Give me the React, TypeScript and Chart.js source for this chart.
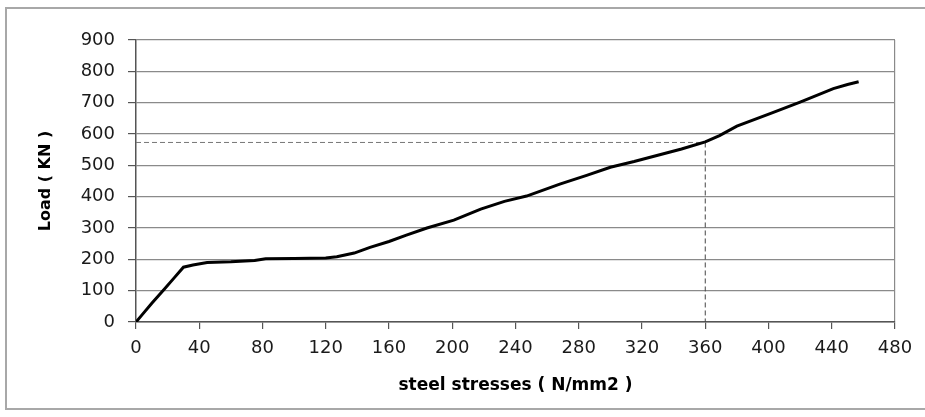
import React, { useEffect, useRef } from "react";
import { Chart, registerables } from "chart.js";

Chart.register(...registerables);

// Steel stress (N/mm2) vs load (KN)
const stress = [0, 5, 10, 18, 24, 30, 36, 45, 60, 75, 82, 100, 120, 127, 138, 148, 160, 171, 184, 201, 218, 233, 247, 268, 285, 300, 315, 330, 345, 360, 369, 380, 401, 420, 441, 450, 457];
const load = [0, 30, 60, 105, 140, 175, 182, 190, 192, 196, 202, 203, 204, 208, 220, 238, 257, 277, 300, 325, 360, 385, 402, 440, 468, 494, 512, 532, 552, 575, 595, 625, 665, 702, 745, 758, 767];

// Reference (dashed) lines at the 360 N/mm2 marker
const refStress = 360;
const refLoad = 573;

const xTicks = [0, 40, 80, 120, 160, 200, 240, 280, 320, 360, 400, 440, 480];
const yTicks = [0, 100, 200, 300, 400, 500, 600, 700, 800, 900];

const xTitle = "steel stresses ( N/mm2 )";
const yTitle = "Load ( KN )";

export default function App() {
  const ref = useRef<HTMLCanvasElement | null>(null);

  useEffect(() => {
    if (!ref.current) return;
    const grid = "#8a8a8a";
    const chart = new Chart(ref.current, {
      type: "scatter",
      data: {
        datasets: [
          {
            label: "Load",
            data: stress.map((s, i) => ({ x: s, y: load[i] })),
            showLine: true,
            borderColor: "#000",
            borderWidth: 3,
            pointRadius: 0,
            tension: 0,
          },
          {
            label: "h",
            data: [
              { x: 0, y: refLoad },
              { x: refStress, y: refLoad },
            ],
            showLine: true,
            borderColor: "#777",
            borderWidth: 1,
            borderDash: [5, 3],
            pointRadius: 0,
          },
          {
            label: "v",
            data: [
              { x: refStress, y: refLoad },
              { x: refStress, y: 0 },
            ],
            showLine: true,
            borderColor: "#444",
            borderWidth: 1,
            borderDash: [5, 3],
            pointRadius: 0,
          },
        ],
      },
      options: {
        animation: false,
        responsive: false,
        layout: { padding: { left: 0, right: 30, top: 40, bottom: 0 } },
        plugins: { legend: { display: false }, tooltip: { enabled: false } },
        scales: {
          x: {
            type: "linear",
            min: 0,
            max: 480,
            afterBuildTicks: (s: any) => {
              s.ticks = xTicks.map((v) => ({ value: v }));
            },
            afterFit: (s: any) => {
              s.height = 95;
            },
            ticks: {
              color: "#1a1a1a",
              font: { family: "DejaVu Sans", size: 18 },
              padding: 9,
              maxRotation: 0,
            },
            grid: {
              color: (c: any) => (c.tick && c.tick.value === 480 ? grid : "rgba(0,0,0,0)"),
              tickColor: "#555",
              tickLength: 7,
              lineWidth: 1.2,
            },
            border: { color: "#555", width: 1.5 },
            title: {
              display: true,
              text: xTitle,
              color: "#000",
              font: { family: "DejaVu Sans", size: 17, weight: "bold" },
              padding: { top: 0, bottom: 21 },
            },
          },
          y: {
            type: "linear",
            min: 0,
            max: 900,
            afterBuildTicks: (s: any) => {
              s.ticks = yTicks.map((v) => ({ value: v }));
            },
            afterFit: (s: any) => {
              s.width = 136;
            },
            ticks: {
              color: "#1a1a1a",
              font: { family: "DejaVu Sans", size: 18 },
              padding: 13,
            },
            grid: {
              color: grid,
              tickColor: "#555",
              tickLength: 8,
              lineWidth: 1.2,
            },
            border: { color: "#555", width: 1.5 },
            title: {
              display: true,
              text: yTitle,
              color: "#000",
              font: { family: "DejaVu Sans", size: 16, weight: "bold" },
              padding: { top: 36, bottom: 0 },
            },
          },
        },
      },
    });
    return () => chart.destroy();
  }, []);

  return (
    <div style={{ position: "absolute", left: 0, top: 0, width: 925, height: 417, background: "#fff", overflow: "hidden" }}>
      <div
        style={{
          position: "absolute",
          left: 5,
          top: 7,
          width: 940,
          height: 403,
          border: "2px solid #a8a8a8",
          boxSizing: "border-box",
        }}
      />
      <canvas ref={ref} width={925} height={417} style={{ position: "absolute", left: 0, top: 0, display: "block" }} />
    </div>
  );
}
